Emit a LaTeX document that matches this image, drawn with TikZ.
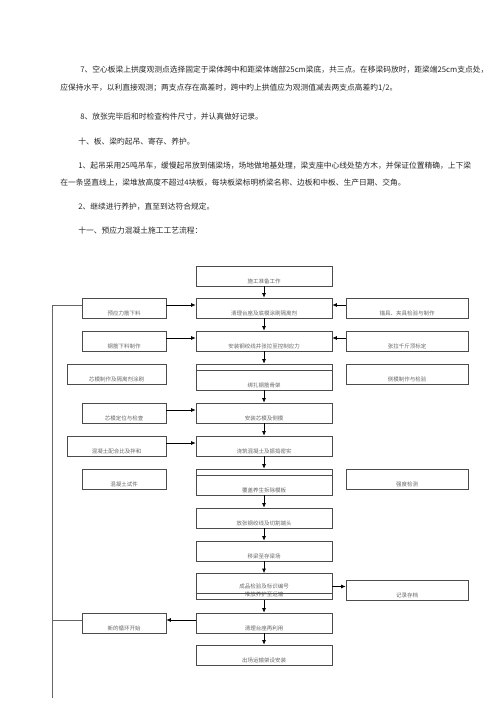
\documentclass[tikz,border=0pt]{standalone}
\usepackage{fontspec}
\setmainfont{Noto Sans CJK SC}
\usetikzlibrary{arrows.meta}
\XeTeXlinebreaklocale "zh"
\XeTeXlinebreakskip=0pt plus 1pt minus 0.5pt

\begin{document}
\begin{tikzpicture}[x=1pt,y=-1pt,every path/.style={>={Latex[length=4.5pt,width=4pt]},line width=0.7pt},
  para/.style={anchor=west,inner sep=0pt,font=\fontsize{7.75}{9}\selectfont,text=black!85},
  box/.style={draw=black!70,rectangle,inner xsep=1pt,inner ysep=2pt,text height=15pt,text depth=1pt,font=\fontsize{5.5}{6.5}\selectfont,text=black!60},
  mid/.style={box,minimum width=136pt},
  lft/.style={box,minimum width=84pt},
  wlft/.style={box,minimum width=99pt},
  rgt/.style={box,minimum width=122pt},
  tall/.style={text height=21pt}]
\useasboundingbox (0,0) rectangle (500,707);
% text above the chart
\node[para] (p1) at (80,70)  {\makebox[390pt][s]{7、空心板梁上拱度观测点选择固定于梁体跨中和距梁体端部25cm梁底，共三点。在移梁码放时，距梁端25cm支点处，}};
\node[para] (p2) at (60,88)  {应保持水平，以利直接观测；两支点存在高差时，跨中旳上拱值应为观测值减去两支点高差旳1/2。};
\node[para] (p3) at (80,117) {8、放张完毕后和时检查构件尺寸，并认真做好记录。};
\node[para] (h1) at (78,142) {十、板、梁旳起吊、寄存、养护。};
\node[para] (p4) at (78,166) {\makebox[392pt][s]{1、起吊采用25吨吊车，缓慢起吊放到储梁场，场地做地基处理，梁支座中心线处垫方木，并保证位置精确，上下梁}};
\node[para] (p5) at (60,183) {在一条竖直线上，梁堆放高度不超过4块板，每块板梁标明桥梁名称、边板和中板、生产日期、交角。};
\node[para] (p6) at (78,207) {2、继续进行养护，直至到达符合规定。};
\node[para] (h2) at (78,231) {十一、预应力混凝土施工工艺流程：};
% flow chart
\node[mid]       (c1)  at (264,276)   {施工准备工作};
\node[lft]       (l2)  at (124,308)   {预应力筋下料};
\node[mid]       (c2)  at (264,308)   {清理台座及底模涂刷隔离剂};
\node[rgt]       (r2)  at (407,308)   {锚具、夹具检验与制作};
\node[lft]       (l3)  at (124,341)   {钢筋下料制作};
\node[mid]       (c3)  at (264,341)   {安装钢绞线并张拉至控制应力};
\node[rgt]       (r3)  at (407,341)   {张拉千斤顶标定};
\node[wlft]      (l4)  at (116.5,374) {芯模制作及隔离剂涂刷};
\node[mid,tall]  (c4)  at (264,377)   {绑扎钢筋骨架};
\node[rgt]       (r4)  at (407,374)   {侧模制作与检验};
\node[lft]       (l5)  at (124,413)   {芯模定位与检查};
\node[mid]       (c5)  at (264,413)   {安装芯模及侧模};
\node[wlft]      (l6)  at (116.5,446) {混凝土配合比及拌和};
\node[mid]       (c6)  at (264,446)   {浇筑混凝土及振捣密实};
\node[lft]       (l7)  at (124,479)   {混凝土试件};
\node[mid,tall]  (c7)  at (264,482)   {覆盖养生拆除模板};
\node[rgt]       (r7)  at (407,479)   {强度检测};
\node[mid]       (c8)  at (264,518)   {放张钢绞线及切割端头};
\node[mid]       (c9)  at (264,551)   {移梁至存梁场};
\node[mid,tall]  (c10) at (264,586.5) {\shortstack{成品检验及标识编号\\堆放养护至运输}};
\node[rgt]       (r10) at (407,590)   {记录存档};
\node[lft]       (l11) at (124,623)   {新的循环开始};
\node[mid]       (c11) at (264,623)   {清理台座再利用};
\node[mid]       (c12) at (264,655)   {出场运输架设安装};
\coordinate      (e)   at (52,698);
\draw[draw=black!70] ([yshift=-7pt]c4.north west) -- ([yshift=-7pt]c4.north east);
\draw[draw=black!70] ([yshift=-7pt]c7.north west) -- ([yshift=-7pt]c7.north east);
\draw[draw=black!70] ([yshift=7pt]c10.south west) -- ([yshift=7pt]c10.south east);
\draw[->] (c1) edge (c2);
\draw[->] (c2) edge (c3);
\draw[->] (c3) edge (c4);
\draw[->] (c4) edge (c5);
\draw[->] (c5) edge (c6);
\draw[->] (c6) edge (c7);
\draw[->] (c7) edge (c8);
\draw[->] (c8) edge (c9);
\draw[->] (c9) edge (c10);
\draw[->] (c10) edge (c11);
\draw[->] (c11) edge (c12);
\draw[->] ([yshift=3pt]l2.east) -- ([yshift=3pt]c2.west);
\draw[->] ([yshift=3pt]r2.west) -- ([yshift=3pt]c2.east);
\draw[->] ([yshift=3pt]l3.east) -- ([yshift=3pt]c3.west);
\draw[->] ([yshift=3pt]r3.west) -- ([yshift=3pt]c3.east);
\draw[->] ([yshift=3pt]l5.east) -- ([yshift=3pt]c5.west);
\draw[->] ([yshift=3pt]l6.east) -- ([yshift=3pt]c6.west);
\draw[->] (c10.east) -- (c10.east -| r10.west);
\draw[->] ([yshift=3pt]c11.west) -- ([yshift=3pt]l11.east);
\draw[draw=black!60] ([yshift=3pt]l2.west) -| (e);
\draw[draw=black!60] ([yshift=3pt]l11.west) -- ([yshift=3pt]l11.west -| e);
\end{tikzpicture}
\end{document}
